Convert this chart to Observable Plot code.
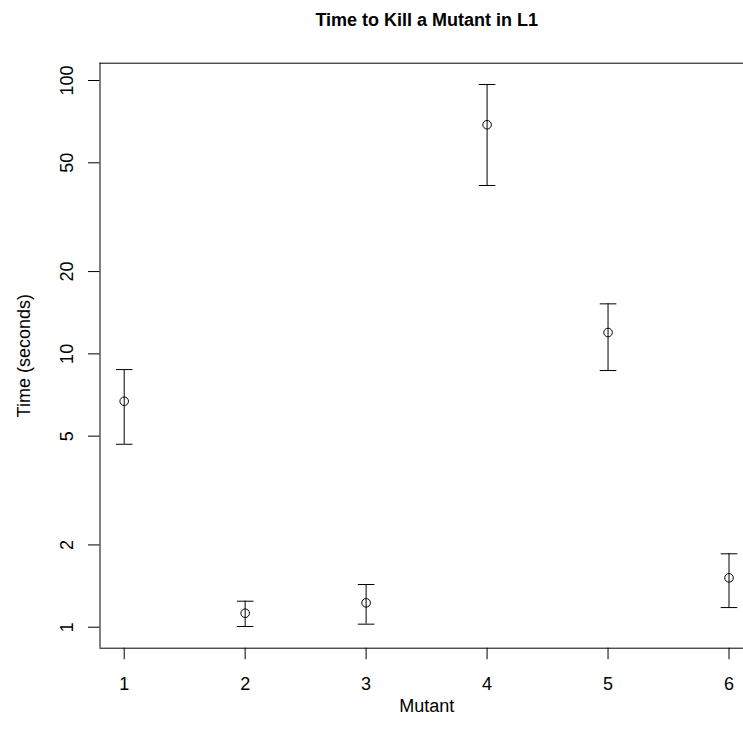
<!DOCTYPE html>
<html>
<head>
<meta charset="utf-8">
<script src="https://cdn.jsdelivr.net/npm/d3@7"></script>
<script src="https://cdn.jsdelivr.net/npm/@observablehq/plot@0.6"></script>
<style>
  html, body { margin: 0; padding: 0; background: #fff; }
</style>
</head>
<body>
<div id="chart"></div>
<script>
const mutants = [1, 2, 3, 4, 5, 6];
const meanTime = [6.71, 1.125, 1.228, 68.9, 11.97, 1.516];
const lowerTime = [4.67, 1.006, 1.026, 41.3, 8.69, 1.18];
const upperTime = [8.76, 1.245, 1.433, 96.7, 15.24, 1.856];
const xTicks = [1, 2, 3, 4, 5, 6];
const yTicks = [1, 2, 5, 10, 20, 50, 100];
const xDomain = [0.8, 6.2];
const yDomain = [0.838, 115.7];
const titleText = "Time to Kill a Mutant in L1";
const xLabel = "Mutant";
const yLabel = "Time (seconds)";

const rows = mutants.map((m, i) => ({m, mean: meanTime[i], lo: lowerTime[i], hi: upperTime[i]}));

const capSymbol = {
  draw(ctx, size) {
    const r = Math.sqrt(size / Math.PI);
    ctx.moveTo(-r, 0);
    ctx.lineTo(r, 0);
  }
};

const chart = Plot.plot({
  width: 743,
  height: 738,
  marginLeft: 99.5,
  marginRight: 0,
  marginTop: 62.7,
  marginBottom: 90.3,
  style: {background: "#fff", color: "#000", fontFamily: "'Liberation Sans', Arial, Helvetica, sans-serif", fontSize: "18px"},
  x: {type: "linear", domain: xDomain, range: [99.5, 752.7]},
  y: {type: "log", domain: yDomain, range: [647.7, 62.7]},
  marks: [
    Plot.ruleX([xDomain[0]], {stroke: "#000", strokeWidth: 1}),
    Plot.ruleY(yDomain, {stroke: "#000", strokeWidth: 1}),
    Plot.axisX({ticks: xTicks, tickSize: 11.5, tickPadding: 18, label: null, fontSize: 18, tickFormat: d => String(d)}),
    Plot.axisY({ticks: yTicks, tickSize: 11.5, tickPadding: 15.5, tickRotate: -90, label: null, fontSize: 18, tickFormat: d => String(d)}),
    Plot.ruleX(rows, {x: "m", y1: "lo", y2: "hi", stroke: "#000", strokeWidth: 1}),
    Plot.dot(rows, {x: "m", y: "lo", symbol: capSymbol, r: 8.3, stroke: "#000", fill: "none", strokeWidth: 1}),
    Plot.dot(rows, {x: "m", y: "hi", symbol: capSymbol, r: 8.3, stroke: "#000", fill: "none", strokeWidth: 1}),
    Plot.dot(rows, {x: "m", y: "mean", r: 4.3, stroke: "#000", fill: "none", strokeWidth: 1}),
    Plot.text([titleText], {frameAnchor: "top", dx: 5, dy: -37.7, lineAnchor: "bottom", fontSize: 18, fontWeight: "bold", fill: "#000"}),
    Plot.text([xLabel], {frameAnchor: "bottom", dx: 5, dy: 51, lineAnchor: "top", fontSize: 18, fill: "#000"}),
    Plot.text([yLabel], {frameAnchor: "left", dx: -70.5, rotate: -90, lineAnchor: "bottom", textAnchor: "middle", fontSize: 18, fill: "#000"})
  ]
});
document.getElementById("chart").append(chart);
</script>
</body>
</html>
